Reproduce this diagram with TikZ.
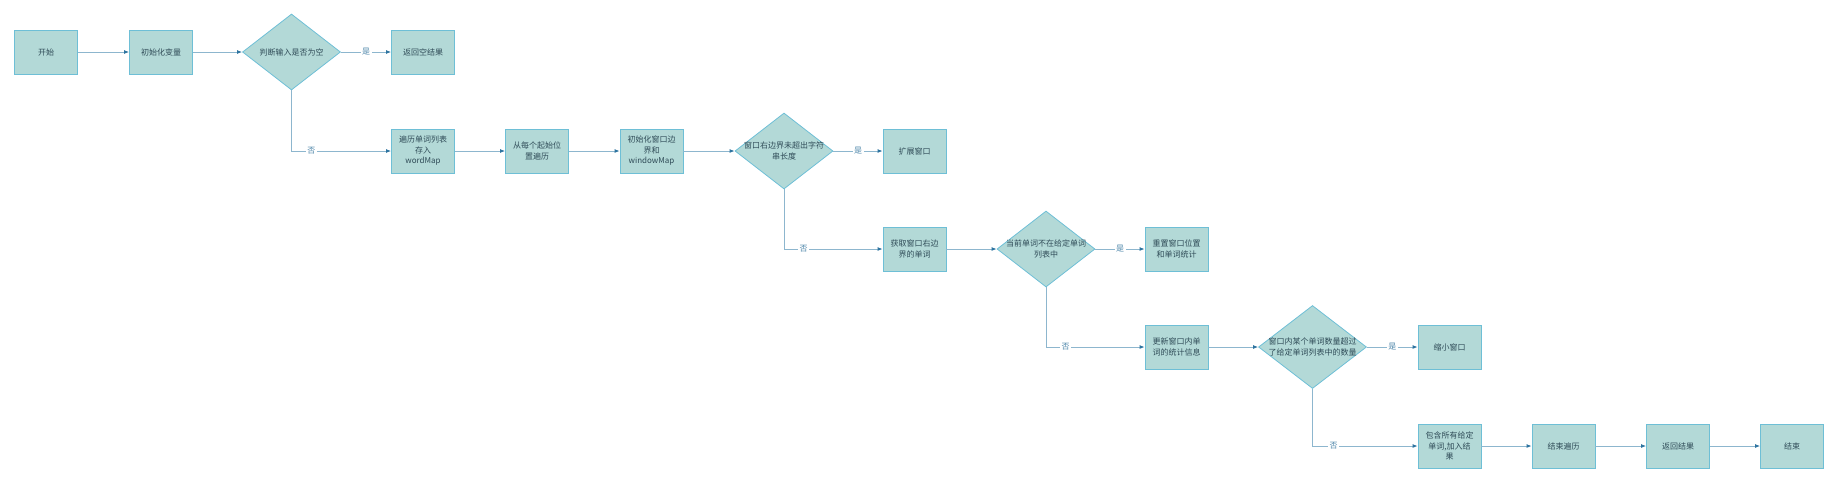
\documentclass[tikz,border=0pt]{standalone}
\usepackage{fontspec}
\setmainfont{Noto Sans CJK SC}
\usetikzlibrary{shapes.geometric,arrows.meta}
\definecolor{boxfill}{HTML}{B3D9D7}
\definecolor{boxdraw}{HTML}{6EBFD6}
\definecolor{linec}{HTML}{8DB6CE}
\definecolor{tipc}{HTML}{2E74A0}
\definecolor{txtc}{HTML}{2F4B57}
\definecolor{lblc}{HTML}{4F87AA}
\tikzset{
  stepbox/.style={rectangle, draw=boxdraw, fill=boxfill, line width=0.8pt,
    minimum width=63pt, minimum height=44pt, inner sep=0pt,
    align=center, text=txtc, font=\fontsize{8}{10.5}\selectfont},
  decide/.style={diamond, draw=boxdraw, fill=boxfill, line width=0.8pt,
    minimum width=98pt, minimum height=76pt, inner sep=0pt},
  dtext/.style={align=center, text=txtc, font=\fontsize{8}{10.5}\selectfont, inner sep=0pt},
  conn/.style={draw=linec, line width=0.9pt, -{Latex[length=5pt,width=4pt,color=tipc]}},
  lbl/.style={fill=white, text=lblc, inner sep=1.5pt, font=\fontsize{8}{9}\selectfont}
}
\begin{document}
\begin{tikzpicture}[x=1pt,y=-1pt]
\useasboundingbox (0,0) rectangle (1834,483);
% row 1
\node[stepbox] (s) at (46,52) {开始};
\node[stepbox] (init) at (161,52) {初始化变量};
\node[decide] (d1) at (291.5,52) {};
\node[dtext] at (d1) {判断输入是否为空};
\node[stepbox] (empty) at (423,52) {返回空结果};
% row 2
\node[stepbox] (trav) at (423,151) {遍历单词列表\\存入\\wordMap};
\node[stepbox] (from) at (537,151) {从每个起始位\\置遍历};
\node[stepbox] (initw) at (651.5,151) {初始化窗口边\\界和\\windowMap};
\node[decide] (d2) at (784,151) {};
\node[dtext] at (d2) {窗口右边界未超出字符\\串长度};
\node[stepbox] (expand) at (914.5,151) {扩展窗口};
% row 3
\node[stepbox] (get) at (914.5,249) {获取窗口右边\\界的单词};
\node[decide] (d3) at (1046,249) {};
\node[dtext] at (d3) {当前单词不在给定单词\\列表中};
\node[stepbox] (reset) at (1176.5,249) {重置窗口位置\\和单词统计};
% row 4
\node[stepbox] (upd) at (1176.5,347) {更新窗口内单\\词的统计信息};
\node[decide, minimum width=108pt, minimum height=83pt] (d4) at (1312.5,347) {};
\node[dtext] at (d4) {窗口内某个单词数量超过\\了给定单词列表中的数量};
\node[stepbox] (shrink) at (1449.5,347) {缩小窗口};
% row 5
\node[stepbox] (incl) at (1449.5,446) {包含所有给定\\单词,加入结\\果};
\node[stepbox] (endt) at (1563.5,446) {结束遍历};
\node[stepbox] (ret) at (1678,446) {返回结果};
\node[stepbox] (fin) at (1792,446) {结束};
% connectors
\draw[conn] (s) -- (init);
\draw[conn] (init) -- (d1);
\draw[conn] (d1) -- node[lbl] {是} (empty);
\draw[conn] (d1.south) |- node[lbl, pos=0.6] {否} (trav);
\draw[conn] (trav) -- (from);
\draw[conn] (from) -- (initw);
\draw[conn] (initw) -- (d2);
\draw[conn] (d2) -- node[lbl] {是} (expand);
\draw[conn] (d2.south) |- node[lbl, pos=0.6] {否} (get);
\draw[conn] (get) -- (d3);
\draw[conn] (d3) -- node[lbl] {是} (reset);
\draw[conn] (d3.south) |- node[lbl, pos=0.6] {否} (upd);
\draw[conn] (upd) -- (d4);
\draw[conn] (d4) -- node[lbl] {是} (shrink);
\draw[conn] (d4.south) |- node[lbl, pos=0.6] {否} (incl);
\draw[conn] (incl) -- (endt);
\draw[conn] (endt) -- (ret);
\draw[conn] (ret) -- (fin);
\end{tikzpicture}
\end{document}
